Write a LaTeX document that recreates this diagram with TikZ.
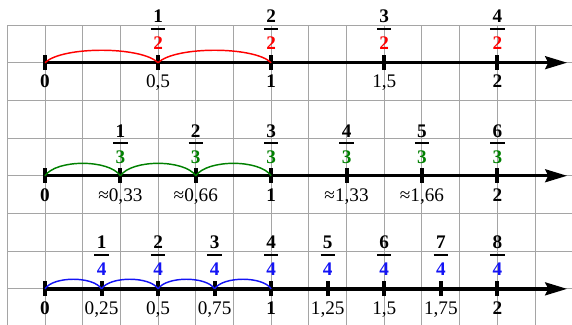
\documentclass[tikz,border=0pt]{standalone}
\usepackage{fontspec}
\setmainfont{Liberation Serif}
\usetikzlibrary{arrows.meta}
\definecolor{gridc}{RGB}{165,165,165}
\definecolor{fred}{RGB}{255,0,0}
\definecolor{fgreen}{RGB}{0,128,0}
\definecolor{fblue}{RGB}{20,20,245}
\tikzset{
  gridline/.style={draw=gridc, line width=0.75pt},
  axisline/.style={line width=2.5pt, -{Stealth[length=0.58cm,width=0.34cm,inset=0.08cm]}},
  tickline/.style={line width=3pt},
  numlab/.style={inner sep=0pt, anchor=base, font=\fontsize{14.5}{16}\selectfont\bfseries},
  denlab/.style={inner sep=0pt, anchor=base, font=\fontsize{14.5}{16}\selectfont\bfseries},
  fracbar/.style={line width=1.5pt},
  declab/.style={inner sep=0pt, anchor=base, font=\fontsize{14.5}{16}\selectfont},
  intlab/.style={inner sep=0pt, anchor=base, font=\fontsize{14.5}{16}\selectfont\bfseries},
  arcline/.style={line width=1.1pt},
}
\begin{document}
\begin{tikzpicture}
\useasboundingbox (-0.194,-7.958) rectangle (14.98,0.663);
% grid
\begin{scope}
\clip (-0.05,-7.958) rectangle (14.98,0.05);
\draw[gridline] (0,-8) grid (15,0);
\end{scope}

% ---------- Row 1 (halves) ----------
\foreach \i in {0,...,4} {
  \coordinate (ta\i) at ({1+3*\i},-1);
}
\coordinate (ea) at (14.85,-1);
\draw[axisline] (ta0) -- (ea);
\foreach \i in {0,...,4} {
  \draw[tickline] ([yshift=-0.19cm]ta\i) -- ([yshift=0.21cm]ta\i);
}
\foreach \i in {1,2} {
  \pgfmathtruncatemacro{\j}{\i-1}
  \draw[arcline, fred] (ta\j) .. controls +(0.45,0.44) and +(-0.45,0.44) .. (ta\i);
}
\foreach \i in {1,...,4} {
  \node[numlab] (na\i) at ([yshift=1.06cm]ta\i) {\i};
  \node[denlab, text=fred] (da\i) at ([yshift=0.34cm]ta\i) {2};
  \draw[fracbar] ([xshift=-0.19cm,yshift=0.9cm]ta\i) -- ([xshift=0.19cm,yshift=0.9cm]ta\i);
}
\node[intlab] (la0) at ([yshift=-0.67cm]ta0) {0};
\node[declab] (la1) at ([yshift=-0.67cm]ta1) {0,5};
\node[intlab] (la2) at ([yshift=-0.67cm]ta2) {1};
\node[declab] (la3) at ([yshift=-0.67cm]ta3) {1,5};
\node[intlab] (la4) at ([yshift=-0.67cm]ta4) {2};

% ---------- Row 2 (thirds) ----------
\foreach \i in {0,...,6} {
  \coordinate (tb\i) at ({1+2*\i},-4);
}
\coordinate (eb) at (14.85,-4);
\draw[axisline] (tb0) -- (eb);
\foreach \i in {0,...,6} {
  \draw[tickline] ([yshift=-0.19cm]tb\i) -- ([yshift=0.21cm]tb\i);
}
\foreach \i in {1,2,3} {
  \pgfmathtruncatemacro{\j}{\i-1}
  \draw[arcline, fgreen] (tb\j) .. controls +(0.3,0.44) and +(-0.3,0.44) .. (tb\i);
}
\foreach \i in {1,...,6} {
  \node[numlab] (nb\i) at ([yshift=1.02cm]tb\i) {\i};
  \node[denlab, text=fgreen] (db\i) at ([yshift=0.33cm]tb\i) {3};
  \draw[fracbar] ([xshift=-0.19cm,yshift=0.88cm]tb\i) -- ([xshift=0.19cm,yshift=0.88cm]tb\i);
}
\node[intlab] (lb0) at ([yshift=-0.67cm]tb0) {0};
\node[declab] (lb1) at ([yshift=-0.67cm]tb1) {≈0,33};
\node[declab] (lb2) at ([yshift=-0.67cm]tb2) {≈0,66};
\node[intlab] (lb3) at ([yshift=-0.67cm]tb3) {1};
\node[declab] (lb4) at ([yshift=-0.67cm]tb4) {≈1,33};
\node[declab] (lb5) at ([yshift=-0.67cm]tb5) {≈1,66};
\node[intlab] (lb6) at ([yshift=-0.67cm]tb6) {2};

% ---------- Row 3 (quarters) ----------
\foreach \i in {0,...,8} {
  \coordinate (tc\i) at ({1+1.5*\i},-7);
}
\coordinate (ec) at (14.85,-7);
\draw[axisline] (tc0) -- (ec);
\foreach \i in {0,...,8} {
  \draw[tickline] ([yshift=-0.19cm]tc\i) -- ([yshift=0.21cm]tc\i);
}
\foreach \i in {1,2,3,4} {
  \pgfmathtruncatemacro{\j}{\i-1}
  \draw[arcline, fblue] (tc\j) .. controls +(0.22,0.34) and +(-0.22,0.34) .. (tc\i);
}
\foreach \i in {1,...,8} {
  \node[numlab] (nc\i) at ([yshift=1.06cm]tc\i) {\i};
  \node[denlab, text=fblue] (dc\i) at ([yshift=0.35cm]tc\i) {4};
  \draw[fracbar] ([xshift=-0.19cm,yshift=0.91cm]tc\i) -- ([xshift=0.19cm,yshift=0.91cm]tc\i);
}
\node[intlab] (lc0) at ([yshift=-0.67cm]tc0) {0};
\node[declab] (lc1) at ([yshift=-0.67cm]tc1) {0,25};
\node[declab] (lc2) at ([yshift=-0.67cm]tc2) {0,5};
\node[declab] (lc3) at ([yshift=-0.67cm]tc3) {0,75};
\node[intlab] (lc4) at ([yshift=-0.67cm]tc4) {1};
\node[declab] (lc5) at ([yshift=-0.67cm]tc5) {1,25};
\node[declab] (lc6) at ([yshift=-0.67cm]tc6) {1,5};
\node[declab] (lc7) at ([yshift=-0.67cm]tc7) {1,75};
\node[intlab] (lc8) at ([yshift=-0.67cm]tc8) {2};
\end{tikzpicture}
\end{document}
